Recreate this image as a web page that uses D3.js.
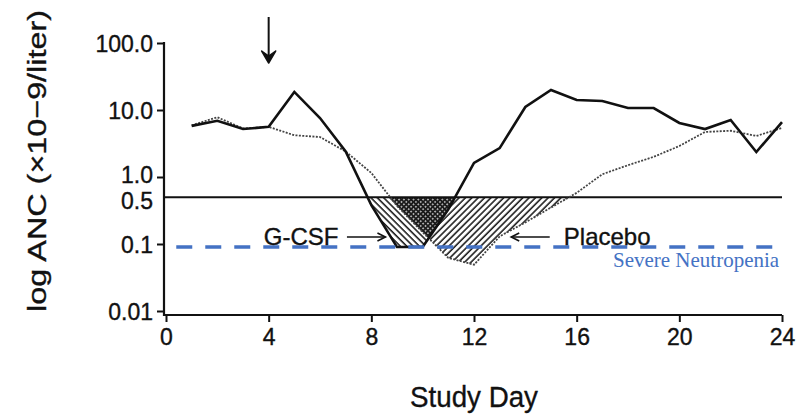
<!DOCTYPE html>
<html>
<head>
<meta charset="utf-8">
<script src="https://cdn.jsdelivr.net/npm/d3@7"></script>
<style>
	body { margin: 0; background: #fff; }
	svg { display: block; }
	text { font-family: "Liberation Sans", Arial, Helvetica, sans-serif; fill: #111; }
	text.ink { stroke: #111; stroke-width: 0.35px; }
</style>
</head>
<body>
<svg id="chart" width="803" height="415"></svg>
<script>
// values (ANC, x10^9/liter, by study day)
var days = [1, 2, 3, 4, 5, 6, 7, 8, 9, 10, 11, 12, 13, 14, 15, 16, 17, 18, 19, 20, 21, 22, 23, 24];
var gcsfValues = [5.8, 6.9, 5.2, 5.6, 18.6, 7.6, 2.4, 0.38, 0.09, 0.09, 0.33, 1.62, 2.7, 11.1, 19.9, 14.1, 13.6, 10.7, 10.7, 6.4, 5.2, 7.1, 2.36, 6.6];
var placeboValues = [5.9, 7.8, 5.3, 5.6, 4.2, 3.95, 2.4, 1.15, 0.37, 0.15, 0.062, 0.049, 0.13, 0.21, 0.35, 0.58, 1.1, 1.5, 2.0, 2.9, 4.7, 4.9, 4.1, 5.4];

var xTicks = [0, 4, 8, 12, 16, 20, 24];
var yTicks = [0.01, 0.1, 0.5, 1, 10, 100];
var yTickLabels = ["0.01", "0.1", "0.5", "1.0", "10.0", "100.0"];

var thresholdLevel = 0.5;     // horizontal reference line
var severeLevel = 0.09;       // blue dashed "severe neutropenia" line
var severeSpan = [0.4, 23.85];
var doseDay = 4;              // arrow above the chart

var svg = d3.select("#chart");

var x = d3.scaleLinear().domain([0, 24]).range([166, 782]);
var y = d3.scaleLog().domain([0.01, 100]).range([311, 43]);
var xAxisY = 315;

var gcsf = days.map(function(d, i) { return {day: d, value: gcsfValues[i]}; });
var placebo = days.map(function(d, i) { return {day: d, value: placeboValues[i]}; });

var defs = svg.append("defs");

// hatch patterns: "\\" for G-CSF, "//" for placebo, stipple for the overlap
function hatch(id, angle) {
	var p = defs.append("pattern")
		.attr("id", id)
		.attr("patternUnits", "userSpaceOnUse")
		.attr("width", 4.5)
		.attr("height", 4.5)
		.attr("patternTransform", "rotate(" + angle + ")");
	p.append("rect").attr("width", 4.5).attr("height", 4.5).attr("fill", "#fff");
	p.append("line")
		.attr("x1", 1).attr("x2", 1)
		.attr("y1", 0).attr("y2", 4.5)
		.attr("stroke", "#111")
		.attr("stroke-width", 1.5);
}
hatch("hatch-gcsf", -45);
hatch("hatch-placebo", 45);

var stip = defs.append("pattern")
	.attr("id", "stipple")
	.attr("patternUnits", "userSpaceOnUse")
	.attr("width", 3.4)
	.attr("height", 3.4)
	.attr("patternTransform", "rotate(45)");
stip.append("rect").attr("width", 3.4).attr("height", 3.4).attr("fill", "#1a1a1a");
stip.append("circle").attr("cx", 1.7).attr("cy", 1.7).attr("r", 0.85).attr("fill", "#ddd");

// only the part below the 0.5 line gets shaded
defs.append("clipPath").attr("id", "below-threshold")
	.append("rect")
	.attr("x", x(0))
	.attr("y", y(thresholdLevel))
	.attr("width", x(24) - x(0))
	.attr("height", xAxisY - y(thresholdLevel));

var area = d3.area()
	.x(function(d) { return x(d.day); })
	.y0(y(thresholdLevel))
	.y1(function(d) { return y(d.value); });

defs.append("clipPath").attr("id", "placebo-area")
	.append("path")
	.attr("d", area(placebo));

var shading = svg.append("g").attr("clip-path", "url(#below-threshold)");

shading.append("path")
	.attr("d", area(gcsf))
	.attr("fill", "url(#hatch-gcsf)");

shading.append("path")
	.attr("d", area(placebo))
	.attr("fill", "url(#hatch-placebo)");

// overlap of both regions
shading.append("g")
	.attr("clip-path", "url(#placebo-area)")
	.append("path")
	.attr("d", area(gcsf))
	.attr("fill", "url(#stipple)");

// axes
var xAxis = svg.append("g")
	.attr("transform", "translate(0," + xAxisY + ")")
	.call(d3.axisBottom(x).tickValues(xTicks).tickSize(7).tickPadding(7).tickSizeOuter(0));

var yAxis = svg.append("g")
	.attr("transform", "translate(" + (x(0) - 2) + ",0)")
	.call(d3.axisLeft(y)
		.tickValues(yTicks)
		.tickFormat(function(d, i) { return yTickLabels[i]; })
		.tickSize(7)
		.tickPadding(4)
		.tickSizeOuter(0));

[xAxis, yAxis].forEach(function(g) {
	g.select(".domain").remove();
	g.selectAll(".tick line").attr("stroke", "#111").attr("stroke-width", 2);
	g.selectAll(".tick text")
		.attr("class", "ink")
		.style("font-size", "23px")
		.attr("fill", "#111");
});
yAxis.selectAll(".tick text").attr("dy", "0.36em");
// 1.0 and 0.5 sit close together: nudge them apart a little
yAxis.selectAll(".tick").filter(function(d) { return d === 1; })
	.select("text").attr("dy", "0.22em");
yAxis.selectAll(".tick").filter(function(d) { return d === thresholdLevel; })
	.select("text").attr("dy", "0.5em");
// no tick mark at 0.5, the reference line starts there
yAxis.selectAll(".tick").filter(function(d) { return d === thresholdLevel; })
	.select("line").remove();

svg.append("line")
	.attr("x1", x(0) - 2).attr("x2", x(0) - 2)
	.attr("y1", y(100) - 1).attr("y2", xAxisY + 1)
	.attr("stroke", "#111").attr("stroke-width", 2.2);
svg.append("line")
	.attr("x1", x(0) - 3).attr("x2", x(24))
	.attr("y1", xAxisY).attr("y2", xAxisY)
	.attr("stroke", "#111").attr("stroke-width", 2.2);

// 0.5 reference line
svg.append("line")
	.attr("x1", x(0) - 2).attr("x2", x(24))
	.attr("y1", y(thresholdLevel)).attr("y2", y(thresholdLevel))
	.attr("stroke", "#111").attr("stroke-width", 2);

var line = d3.line()
	.x(function(d) { return x(d.day); })
	.y(function(d) { return y(d.value); });

svg.append("path")
	.datum(placebo)
	.attr("d", line)
	.attr("fill", "none")
	.attr("stroke", "#444")
	.attr("stroke-width", 1.8)
	.attr("stroke-dasharray", "2,1.4");

svg.append("path")
	.datum(gcsf)
	.attr("d", line)
	.attr("fill", "none")
	.attr("stroke", "#111")
	.attr("stroke-width", 2.6)
	.attr("stroke-linejoin", "miter");

// severe neutropenia line
svg.append("line")
	.attr("x1", x(severeSpan[0])).attr("x2", x(severeSpan[1]))
	.attr("y1", y(severeLevel)).attr("y2", y(severeLevel))
	.attr("stroke", "#4472c4")
	.attr("stroke-width", 3.5)
	.attr("stroke-dasharray", "16,13");

svg.append("text")
	.attr("x", x(severeSpan[1]) + 1)
	.attr("y", y(severeLevel) + 20)
	.attr("text-anchor", "end")
	.style("font-family", "'Liberation Serif', 'Times New Roman', serif")
	.style("font-size", "21px")
	.style("fill", "#4472c4")
	.text("Severe Neutropenia");

// labels pointing at the shaded areas
var noteY = y(0.127);

svg.append("text")
	.attr("class", "ink")
	.attr("x", x(6.72))
	.attr("y", noteY + 8)
	.attr("text-anchor", "end")
	.style("font-size", "24px")
	.text("G-CSF");

svg.append("text")
	.attr("class", "ink")
	.attr("x", x(15.5))
	.attr("y", noteY + 8)
	.style("font-size", "24px")
	.text("Placebo");

function pointer(fromDay, toDay) {
	var x1 = x(fromDay), x2 = x(toDay), dir = x2 > x1 ? 1 : -1;
	svg.append("line")
		.attr("x1", x1).attr("x2", x2)
		.attr("y1", noteY).attr("y2", noteY)
		.attr("stroke", "#111").attr("stroke-width", 1.4);
	svg.append("path")
		.attr("d", "M" + (x2 - dir * 8) + "," + (noteY - 4) + "L" + x2 + "," + noteY + "L" + (x2 - dir * 8) + "," + (noteY + 4))
		.attr("fill", "none")
		.attr("stroke", "#111")
		.attr("stroke-width", 1.6);
}
pointer(7.05, 8.55);
pointer(14.95, 13.45);

// dosing arrow above day 4
var ax = x(doseDay), aTop = y(100) - 26, aTip = y(100) + 20;
svg.append("line")
	.attr("x1", ax).attr("x2", ax)
	.attr("y1", aTop).attr("y2", aTip - 2)
	.attr("stroke", "#111").attr("stroke-width", 2);
svg.append("path")
	.attr("d", "M" + (ax - 7) + "," + (aTip - 12) + "L" + ax + "," + aTip + "L" + (ax + 7) + "," + (aTip - 12) + "L" + ax + "," + (aTip - 7) + "Z")
	.attr("fill", "#111")
	.attr("stroke", "#111")
	.attr("stroke-width", 1.5)
	.attr("stroke-linejoin", "round");

// axis titles
svg.append("text")
	.attr("class", "ink")
	.attr("transform", "translate(46," + 161 + ") rotate(-90)")
	.attr("text-anchor", "middle")
	.attr("textLength", 302)
	.attr("lengthAdjust", "spacingAndGlyphs")
	.style("font-size", "26px")
	.text("log ANC (\u00d710\u22129/liter)");

svg.append("text")
	.attr("class", "ink")
	.attr("x", (x(0) + x(24)) / 2)
	.attr("y", 407)
	.attr("text-anchor", "middle")
	.attr("textLength", 128)
	.attr("lengthAdjust", "spacingAndGlyphs")
	.style("font-size", "30px")
	.text("Study Day");
</script>
</body>
</html>
